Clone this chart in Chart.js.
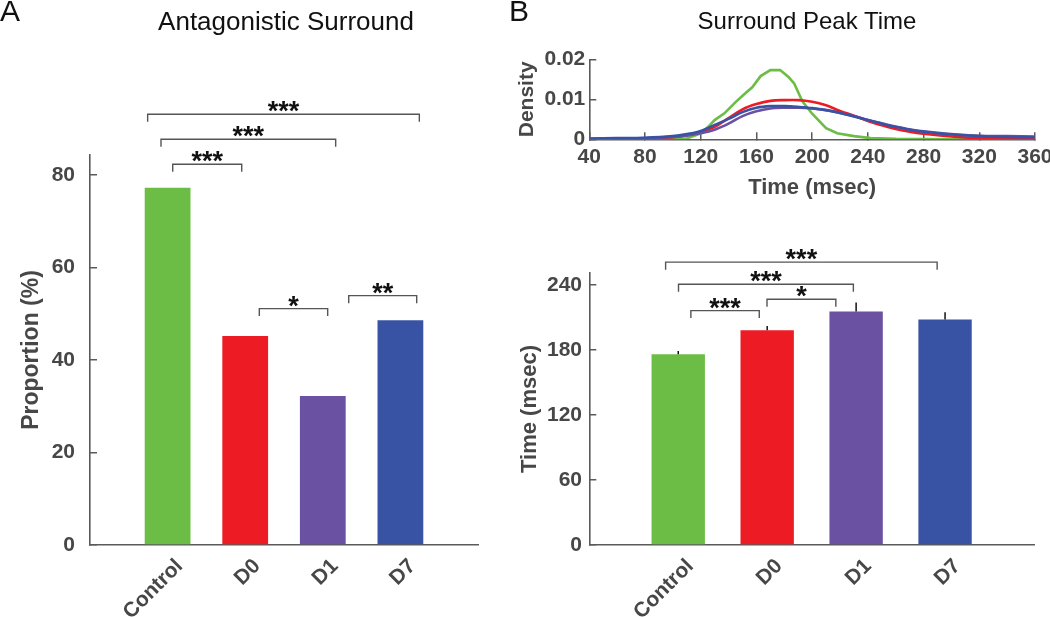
<!DOCTYPE html>
<html><head><meta charset="utf-8">
<script src="https://cdn.jsdelivr.net/npm/chart.js@4.4.1/dist/chart.umd.min.js"></script>
<style>
html,body{margin:0;padding:0;background:#fff;}
#wrap{position:relative;width:1050px;height:617px;overflow:hidden;font-family:"Liberation Sans",Arial,sans-serif;}
canvas{position:absolute;left:0;top:0;}
.t{position:absolute;white-space:nowrap;color:#111;line-height:1;}
</style></head><body>
<div id="wrap">
<canvas id="cA" width="1050" height="617"></canvas>
<canvas id="cD" width="1050" height="617"></canvas>
<canvas id="cB" width="1050" height="617"></canvas>
<div class="t" style="left:0;top:-4px;font-size:30px;">A</div>
<div class="t" style="left:509px;top:-4px;font-size:30px;">B</div>
<div class="t" style="left:286px;top:7.5px;font-size:26px;transform:translateX(-50%)">Antagonistic Surround</div>
<div class="t" style="left:807px;top:9px;font-size:24px;transform:translateX(-50%)">Surround Peak Time</div>
</div>
<script>
// ---------- data ----------
const categories = ['Control', 'D0', 'D1', 'D7'];
const proportion = [77.2, 45.2, 32.2, 48.6];
const proportionTicks = [0, 20, 40, 60, 80];
const peakTime = [176.0, 198.2, 215.4, 208.0];
const peakTimeSEM = [3.0, 4.0, 8.3, 6.8];
const peakTimeTicks = [0, 60, 120, 180, 240];
const densityXTicks = [40, 80, 120, 160, 200, 240, 280, 320, 360];
const densityYTicks = [0, 0.01, 0.02];
// [time (msec), density]
const densityControl = [[40,0],[60,0],[80,0],[100,0.0001],[110,0.0002],[120,0.0015],[125,0.0030],[130,0.0048],[137,0.0065],[145,0.0093],[152,0.0115],[157,0.0130],[163,0.0158],[170,0.0173],[177,0.0173],[183,0.0156],[187,0.0140],[193,0.0095],[200,0.0064],[210,0.0028],[218,0.0015],[230,0.0008],[242,0.0003],[260,0.0001],[300,0],[360,0]];
const densityD0 = [[57,0],[80,0.0001],[100,0.0005],[110,0.0010],[120,0.0019],[130,0.0031],[140,0.0053],[150,0.0075],[160,0.0088],[170,0.0096],[180,0.0098],[190,0.0098],[200,0.0094],[210,0.0085],[220,0.0071],[230,0.0059],[240,0.0046],[250,0.0035],[260,0.0026],[270,0.0019],[280,0.0014],[290,0.0010],[300,0.0007],[320,0.0003],[340,0.0002],[360,0.0001]];
const densityD1 = [[40,0.0001],[60,0.0002],[80,0.0003],[100,0.0006],[110,0.0009],[120,0.0015],[130,0.0024],[140,0.0039],[150,0.0058],[160,0.0070],[170,0.0077],[180,0.0079],[190,0.0079],[200,0.0077],[210,0.0073],[220,0.0066],[230,0.0058],[240,0.0048],[250,0.0040],[260,0.0032],[270,0.0025],[280,0.0020],[290,0.0016],[300,0.0013],[320,0.0009],[340,0.0008],[360,0.0007]];
const densityD7 = [[40,0.0002],[60,0.0003],[80,0.0004],[100,0.0008],[110,0.0013],[120,0.0021],[130,0.0036],[140,0.0051],[150,0.0068],[160,0.0079],[170,0.0083],[180,0.0083],[190,0.0081],[200,0.0078],[210,0.0073],[220,0.0066],[230,0.0057],[240,0.0048],[250,0.0039],[260,0.0031],[270,0.0024],[280,0.0019],[290,0.0015],[300,0.0012],[320,0.0008],[340,0.0006],[360,0.0005]];
// significance brackets: from/to in category index units (Control = 1)
const sigProportion = [
  {from:1.066, to:1.955, level:82.3, text:'***'},
  {from:0.915, to:3.166, level:87.7, text:'***'},
  {from:0.743, to:4.244, level:93.1, text:'***'},
  {from:2.182, to:3.063, level:51.1, text:'*'},
  {from:3.334, to:4.210, level:53.9, text:'**'}
];
const sigPeakTime = [
  {from:1.142, to:1.911, level:216.3, text:'***'},
  {from:1.998, to:2.772, level:226.8, text:'*'},
  {from:1.003, to:2.969, level:240.6, text:'***'},
  {from:0.858, to:3.911, level:261.0, text:'***'}
];

// ---------- styles ----------
const colors = ['#6cbd45', '#ed1c24', '#6b51a1', '#3853a4'];
const FAM = '"Liberation Sans", Arial, sans-serif';
const axisColor = '#5a5a5a';
const tickColor = '#474747';
const tickFont = {family: FAM, size: 21, weight: 'bold'};
const titleFont = {family: FAM, size: 22, weight: 'bold'};

const sigPlugin = {
  id: 'sig',
  afterDraw(chart, args, opts) {
    const br = opts.brackets || [];
    const ctx = chart.ctx, xs = chart.scales.x, ys = chart.scales.y;
    ctx.save();
    ctx.strokeStyle = '#555';
    ctx.lineWidth = 1.4;
    ctx.fillStyle = '#111';
    ctx.font = 'bold 27px ' + FAM;
    ctx.textAlign = 'center';
    ctx.textBaseline = 'alphabetic';
    br.forEach(b => {
      const x1 = xs.getPixelForValue(b.from), x2 = xs.getPixelForValue(b.to);
      const y = ys.getPixelForValue(b.level);
      ctx.beginPath();
      ctx.moveTo(x1, y + 7.5); ctx.lineTo(x1, y); ctx.lineTo(x2, y); ctx.lineTo(x2, y + 7.5);
      ctx.stroke();
      ctx.fillText(b.text, (x1 + x2) / 2, y + 6);
    });
    ctx.restore();
  }
};
const errPlugin = {
  id: 'err',
  afterDatasetsDraw(chart, args, opts) {
    if (!opts.sem) return;
    const ctx = chart.ctx, xs = chart.scales.x, ys = chart.scales.y;
    ctx.save();
    ctx.strokeStyle = '#111';
    ctx.lineWidth = 1.5;
    opts.values.forEach((v, i) => {
      const x = xs.getPixelForValue(i + 1);
      ctx.beginPath();
      ctx.moveTo(x, ys.getPixelForValue(v));
      ctx.lineTo(x, ys.getPixelForValue(v + opts.sem[i]));
      ctx.stroke();
    });
    ctx.restore();
  }
};

function barXScale(h) {
  return {
    offset: false,
    grid: {display: false, drawTicks: false, offset: false},
    border: {display: true, color: axisColor, width: 1.6},
    ticks: {autoSkip: false, minRotation: 45, maxRotation: 45, font: tickFont, color: tickColor, padding: 9, labelOffset: 12},
    afterFit: s => { s.height = h; s.paddingLeft = 0; s.paddingRight = 0; }
  };
}
function yScale(min, max, ticks, w, pad, title, tpad, fmt, tfont) {
  return {
    min: min, max: max,
    afterBuildTicks: s => { s.ticks = ticks.map(v => ({value: v})); },
    grid: {drawOnChartArea: false, tickLength: -7, color: axisColor, lineWidth: 1.5},
    border: {display: true, color: axisColor, width: 1.6},
    ticks: {padding: pad, font: tickFont, color: tickColor, callback: fmt},
    title: {display: true, text: title, font: tfont || titleFont, color: tickColor, padding: {top: tpad, bottom: 0}},
    afterFit: s => { s.width = w; s.paddingTop = 0; s.paddingBottom = 0; }
  };
}
const common = {responsive: false, animation: false, events: []};

// ---------- Panel A ----------
new Chart(document.getElementById('cA'), {
  type: 'bar',
  data: {
    labels: ['', ...categories, ''],
    datasets: [{
      data: [null, ...proportion, null],
      backgroundColor: ['rgba(0,0,0,0)', ...colors, 'rgba(0,0,0,0)'],
      borderWidth: 0, categoryPercentage: 1, barPercentage: 0.59
    }]
  },
  options: Object.assign({}, common, {
    layout: {padding: {left: 0, top: 155, right: 572, bottom: 0}},
    plugins: {legend: {display: false}, tooltip: {enabled: false}, sig: {brackets: sigProportion}, err: {}},
    scales: {
      x: barXScale(72),
      y: yScale(0, 84.3, proportionTicks, 90, 22, 'Proportion (%)', 18, v => String(v), {family: FAM, size: 23, weight: 'bold'})
    }
  }),
  plugins: [sigPlugin, errPlugin]
});

// ---------- Panel B density ----------
const toXY = arr => arr.map(p => ({x: p[0], y: p[1]}));
new Chart(document.getElementById('cD'), {
  type: 'line',
  data: {
    datasets: [
      {data: toXY(densityControl), borderColor: colors[0], order: 3, tension: 0},
      {data: toXY(densityD0), borderColor: colors[1], order: 2, tension: 0.35},
      {data: toXY(densityD1), borderColor: colors[2], order: 1, tension: 0.35},
      {data: toXY(densityD7), borderColor: colors[3], order: 0, tension: 0.35}
    ]
  },
  options: Object.assign({}, common, {
    layout: {padding: {left: 500, top: 59.3, right: 15, bottom: 400}},
    elements: {point: {radius: 0}, line: {borderWidth: 2.6, fill: false}},
    plugins: {legend: {display: false}, tooltip: {enabled: false}},
    scales: {
      x: {
        type: 'linear', min: 40, max: 360,
        afterBuildTicks: s => { s.ticks = densityXTicks.map(v => ({value: v})); },
        grid: {drawOnChartArea: false, tickLength: -7, color: axisColor, lineWidth: 1.5},
        border: {display: true, color: axisColor, width: 1.6},
        ticks: {padding: 12, font: tickFont, color: tickColor, maxRotation: 0, callback: v => String(v)},
        title: {display: true, text: 'Time (msec)', font: titleFont, color: tickColor, padding: {top: 0, bottom: 16}},
        afterFit: s => { s.height = 77.7; s.paddingLeft = 0; s.paddingRight = 0; }
      },
      y: yScale(0, 0.02, densityYTicks, 89.3, 11, 'Density', 15, v => v === 0 ? '0' : v.toFixed(2), {family: FAM, size: 21, weight: 'bold'})
    }
  })
});

// ---------- Panel B bars ----------
new Chart(document.getElementById('cB'), {
  type: 'bar',
  data: {
    labels: ['', ...categories, ''],
    datasets: [{
      data: [null, ...peakTime, null],
      backgroundColor: ['rgba(0,0,0,0)', ...colors, 'rgba(0,0,0,0)'],
      borderWidth: 0, categoryPercentage: 1, barPercentage: 0.6
    }]
  },
  options: Object.assign({}, common, {
    layout: {padding: {left: 500, top: 273, right: 16, bottom: 0}},
    plugins: {legend: {display: false}, tooltip: {enabled: false}, sig: {brackets: sigPeakTime}, err: {values: peakTime, sem: peakTimeSEM}},
    scales: {
      x: barXScale(72),
      y: yScale(0, 251, peakTimeTicks, 89.3, 14.3, 'Time (msec)', 16.6, v => String(v))
    }
  }),
  plugins: [sigPlugin, errPlugin]
});
</script>
</body></html>
